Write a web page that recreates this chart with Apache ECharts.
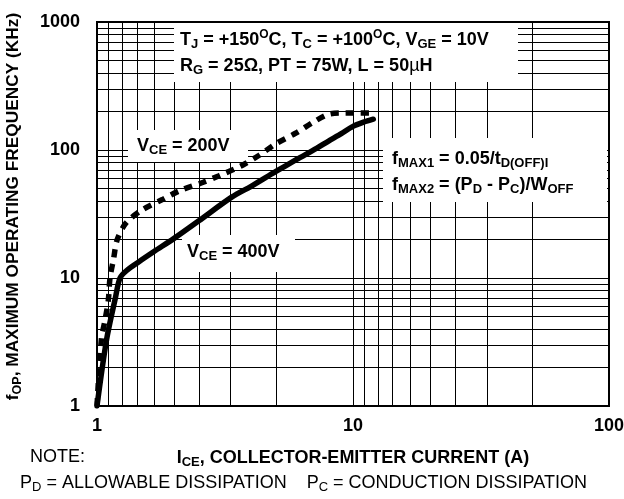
<!DOCTYPE html>
<html lang="en">
<head>
  <meta charset="UTF-8">
  <title>fOP vs ICE</title>
  <script src="https://cdn.jsdelivr.net/npm/echarts@6/dist/echarts.min.js"></script>
  <style>
    html, body { margin: 0; padding: 0; background: #fff; }
    #chart { width: 624px; height: 499px; }
  </style>
</head>
<body>
<div id="chart"></div>
<script>
  // collector current (A) and max operating frequency (kHz)
  var vce400I = [1, 1.09, 1.18, 1.23, 1.31, 1.45, 1.67, 2, 2.5, 3.37, 4, 5, 6, 7.2, 8, 9, 10, 11, 12]
  var vce400F = [1, 3.3, 7, 10, 11.5, 13.3, 16.1, 20.4, 28, 43, 52, 68, 84, 103, 117, 134, 153, 165, 174]
  var vce200I = [1, 1.04, 1.075, 1.107, 1.124, 1.16, 1.2, 1.3, 1.5, 1.8, 2.1, 2.6, 3, 3.7, 4.3, 5, 6, 7, 8, 9, 10, 12]
  var vce200F = [1, 3.3, 4.7, 6.7, 10, 14, 20, 27, 34, 41, 48, 56, 63, 76, 91, 112, 136, 165, 190, 195, 195, 195]

  // the printed grid: x minor lines sit at 10/k, y minor lines at k (k = 2..9)
  var gridX = [1.111, 1.25, 1.429, 1.667, 2, 2.5, 3.333, 5, 10, 11.11, 12.5, 14.29, 16.67, 20, 25, 33.33, 50]
  var gridY = [2, 3, 4, 5, 6, 7, 8, 9, 10, 20, 30, 40, 50, 60, 70, 80, 90, 100, 200, 300, 400, 500, 600, 700, 800, 900]

  var FONT = '"Liberation Sans", Arial, sans-serif'

  function pairs(xs, ys) {
    return xs.map(function(x, i) { return [x, ys[i]] })
  }

  var sub = { fontSize: 13, fontWeight: 'bold', fontFamily: FONT, lineHeight: 13, verticalAlign: 'bottom', fill: '#000', color: '#000' }
  var sup = { fontSize: 12, fontWeight: 'bold', fontFamily: FONT, lineHeight: 10, verticalAlign: 'top', fill: '#000', color: '#000' }
  var main = { fontSize: 18, fontWeight: 'bold', fontFamily: FONT, lineHeight: 22, verticalAlign: 'middle', fill: '#000', color: '#000' }
  var mu = { fontSize: 18, fontWeight: 'normal', fontFamily: FONT, lineHeight: 22, verticalAlign: 'middle', fill: '#000' }
  var yMain = { fontSize: 17.3, fontWeight: 'bold', fontFamily: FONT, lineHeight: 22, verticalAlign: 'middle', color: '#000' }
  var ySub = { fontSize: 12.5, fontWeight: 'bold', fontFamily: FONT, lineHeight: 13, verticalAlign: 'bottom', color: '#000' }

  function note(x, y, text) {
    return {
      type: 'text', x: x, y: y, zlevel: 1, z: 2,
      style: {
        text: text, fontSize: 18, fontWeight: 'bold', fontFamily: FONT, fill: '#000',
        textVerticalAlign: 'middle', rich: { s: sub, o: sup, m: main, u: mu }
      }
    }
  }

  function box(x, y, w, h) {
    return { type: 'rect', zlevel: 1, z: 1, shape: { x: x, y: y, width: w, height: h }, style: { fill: '#fff' } }
  }

  var chart = echarts.init(document.getElementById('chart'), null, { renderer: 'canvas' })

  var option = {
    animation: false,
    backgroundColor: '#fff',
    grid: {
      left: 97, right: 15, top: 22, bottom: 93, containLabel: false, outerBoundsMode: 'none',
      show: true, borderColor: '#000', borderWidth: 2
    },
    xAxis: {
      type: 'log', logBase: 10, min: 1, max: 100,
      name: '{m|I}{s|CE}{m|, COLLECTOR-EMITTER CURRENT (A)}',
      nameLocation: 'middle', nameGap: 41,
      nameTextStyle: { rich: { m: main, s: sub } },
      axisLine: { show: false }, axisTick: { show: false }, splitLine: { show: false },
      axisLabel: { fontSize: 18, fontWeight: 'bold', fontFamily: FONT, color: '#000', margin: 11 }
    },
    yAxis: {
      type: 'log', logBase: 10, min: 1, max: 1000,
      name: '{m|f}{s|OP}{m|, MAXIMUM OPERATING FREQUENCY (KHz)}',
      nameLocation: 'middle', nameGap: 73,
      nameTextStyle: { rich: { m: yMain, s: ySub }, padding: [0, 0, 0, 15] },
      axisLine: { show: false }, axisTick: { show: false }, splitLine: { show: false },
      axisLabel: {
        fontSize: 18, fontWeight: 'bold', fontFamily: FONT, color: '#000', margin: 17,
        formatter: function(v) { return String(v) }
      }
    },
    series: [
      {
        type: 'line', z: 1, zlevel: 0, silent: true,
        data: [[1, 1]], showSymbol: false, lineStyle: { opacity: 0 },
        markLine: {
          silent: true, symbol: ['none', 'none'], label: { show: false },
          lineStyle: { color: '#000', width: 1, type: 'solid' },
          data: gridX.map(function(v) { return { xAxis: v } })
            .concat(gridY.map(function(v) { return { yAxis: v } }))
        }
      },
      {
        name: 'VCE = 400V', type: 'line', zlevel: 2, smooth: 0.3, showSymbol: false,
        data: pairs(vce400I, vce400F),
        lineStyle: { color: '#000', width: 5.5, cap: 'round' }
      },
      {
        name: 'VCE = 200V', type: 'line', zlevel: 2, smooth: 0.3, showSymbol: false,
        data: pairs(vce200I, vce200F),
        lineStyle: { color: '#000', width: 5.5, type: [8, 7], cap: 'butt' }
      }
    ],
    graphic: [
      box(174, 23, 344, 59),
      box(128, 130, 120, 32),
      box(383, 138, 224, 64),
      box(182, 235, 113, 37),
      note(180, 40, '{m|T}{s|J}{m| = +150}{o|O}{m|C, T}{s|C}{m| = +100}{o|O}{m|C, V}{s|GE}{m| = 10V}'),
      note(180, 66, '{m|R}{s|G}{m| = 25Ω, PT = 75W, L = 50}{u|µ}{m|H}'),
      note(137, 146, '{m|V}{s|CE}{m| = 200V}'),
      note(392, 159, '{m|f}{s|MAX1}{m| = 0.05/t}{s|D(OFF)I}'),
      note(392, 185, '{m|f}{s|MAX2}{m| = (P}{s|D}{m| - P}{s|C}{m|)/W}{s|OFF}'),
      note(187, 252, '{m|V}{s|CE}{m| = 400V}'),
      {
        type: 'text', x: 30, y: 457, zlevel: 1, z: 2,
        style: { text: 'NOTE:', fontSize: 18, fontFamily: FONT, fill: '#000', textVerticalAlign: 'middle' }
      },
      {
        type: 'text', x: 20, y: 483, zlevel: 1, z: 2,
        style: {
          text: '{n|P}{d|D}{n| = ALLOWABLE DISSIPATION    P}{d|C}{n| = CONDUCTION DISSIPATION}',
          textVerticalAlign: 'middle',
          rich: {
            n: { fontSize: 18, fontFamily: FONT, lineHeight: 22, verticalAlign: 'middle', fill: '#000' },
            d: { fontSize: 13, fontFamily: FONT, lineHeight: 13, verticalAlign: 'bottom', fill: '#000' }
          }
        }
      }
    ]
  }

  chart.setOption(option)
  window.addEventListener('resize', chart.resize)
</script>
</body>
</html>
